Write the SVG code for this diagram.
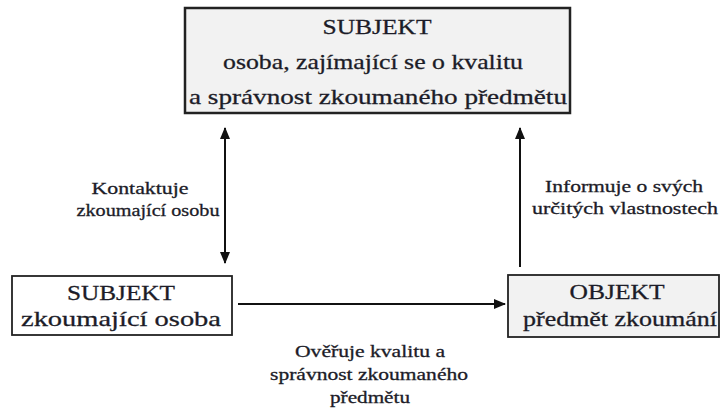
<svg xmlns="http://www.w3.org/2000/svg" width="721" height="411" viewBox="0 0 721 411">
<defs>
<marker id="ah" viewBox="0 0 12 10" refX="11" refY="5" markerWidth="12" markerHeight="10" markerUnits="userSpaceOnUse" orient="auto-start-reverse">
<path d="M0,0 L12,5 L0,10 Z" fill="#111"/>
</marker>
<style>
text{font-family:'Liberation Serif','DejaVu Serif',serif;fill:#1c1c28;stroke:#1c1c28;stroke-width:0.3;}
.b{font-size:22px;}
.l{font-size:17px;}
.box{stroke:#222;}
.c{stroke:#111;stroke-width:2;fill:none;}
</style>
</defs>
<rect width="721" height="411" fill="#fff"/>
<g id="node-subjekt-top">
<rect class="box" x="185" y="8" width="385" height="105" fill="#f2f2f2" stroke-width="2.5"/>
<text class="b" x="377" y="34" text-anchor="middle" textLength="109" lengthAdjust="spacingAndGlyphs">SUBJEKT</text>
<text class="b" x="373" y="69" text-anchor="middle" textLength="300" lengthAdjust="spacingAndGlyphs">osoba, zajímající se o kvalitu</text>
<text class="b" x="378" y="104" text-anchor="middle" textLength="378" lengthAdjust="spacingAndGlyphs">a správnost zkoumaného předmětu</text>
</g>
<g id="node-subjekt-left">
<rect class="box" x="12" y="276" width="220" height="59" fill="#fff" stroke-width="1.8"/>
<text class="b" x="121" y="300" text-anchor="middle" textLength="108" lengthAdjust="spacingAndGlyphs">SUBJEKT</text>
<text class="b" x="121" y="326" text-anchor="middle" textLength="200" lengthAdjust="spacingAndGlyphs">zkoumající osoba</text>
</g>
<g id="node-objekt">
<rect class="box" x="508" y="275" width="211" height="62" fill="#f2f2f2" stroke-width="1.8"/>
<text class="b" x="617" y="299" text-anchor="middle" textLength="95" lengthAdjust="spacingAndGlyphs">OBJEKT</text>
<text class="b" x="620" y="326" text-anchor="middle" textLength="194" lengthAdjust="spacingAndGlyphs">předmět zkoumání</text>
</g>
<g id="connectors">
<line class="c" x1="225" y1="128" x2="225" y2="263" marker-start="url(#ah)" marker-end="url(#ah)"/>
<line class="c" x1="520" y1="267" x2="520" y2="128" marker-end="url(#ah)"/>
<line class="c" x1="238" y1="304" x2="505" y2="304" marker-end="url(#ah)"/>
</g>
<g id="labels">
<text class="l" x="140" y="194" text-anchor="middle" textLength="97" lengthAdjust="spacingAndGlyphs">Kontaktuje</text>
<text class="l" x="148" y="216" text-anchor="middle" textLength="143" lengthAdjust="spacingAndGlyphs">zkoumající osobu</text>
<text class="l" x="624" y="192" text-anchor="middle" textLength="158" lengthAdjust="spacingAndGlyphs">Informuje o svých</text>
<text class="l" x="625" y="214" text-anchor="middle" textLength="186" lengthAdjust="spacingAndGlyphs">určitých vlastnostech</text>
<text class="l" x="370" y="357" text-anchor="middle" textLength="150" lengthAdjust="spacingAndGlyphs">Ověřuje kvalitu a</text>
<text class="l" x="369" y="380" text-anchor="middle" textLength="198" lengthAdjust="spacingAndGlyphs">správnost zkoumaného</text>
<text class="l" x="370" y="403" text-anchor="middle" textLength="80" lengthAdjust="spacingAndGlyphs">předmětu</text>
</g>
</svg>
